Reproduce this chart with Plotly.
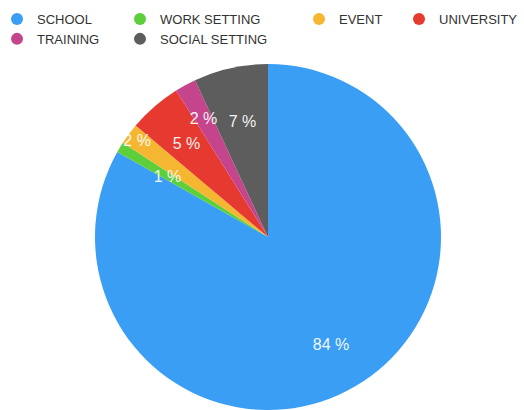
import plotly.graph_objects as go

categories = ["SCHOOL", "WORK SETTING", "EVENT", "UNIVERSITY", "TRAINING", "SOCIAL SETTING"]
values = [84, 1, 2, 5, 2, 7]
colors = ["#3a9ef4", "#5ccf3a", "#f5b731", "#e63a30", "#c4458c", "#5e5d5e"]
value_labels = [f"{v} %" for v in values]

# legend columns as in the reference layout
legend_columns = {
    "legend": ["SCHOOL", "TRAINING"],
    "legend2": ["WORK SETTING", "SOCIAL SETTING"],
    "legend3": ["EVENT"],
    "legend4": ["UNIVERSITY"],
}

# which slice labels are carried by which (transparent) label layer
label_layers = [
    # (categories labelled, radius factor, hole)
    (["SCHOOL", "EVENT"], 1.0, 0.445),
    (["UNIVERSITY", "TRAINING", "SOCIAL SETTING"], 0.83, 0.0),
    (["WORK SETTING"], 0.70, 0.0),
]

W, H = 524, 410
CX, CY, R = 268, 237, 173  # pie centre / radius in pixels


def domain(rf):
    r = R * rf
    return dict(x=[(CX - r) / W, (CX + r) / W], y=[(H - CY - r) / H, (H - CY + r) / H])


font_family = "Liberation Sans, Arial, Helvetica"

fig = go.Figure()
fig.add_trace(go.Pie(
    labels=categories, values=values,
    textinfo="none", sort=False, direction="clockwise", rotation=0,
    marker=dict(colors=colors, line=dict(width=0)),
    showlegend=False, hoverinfo="label+value",
    domain=domain(1.0),
))

for cats, rf, hole in label_layers:
    txt = [lab if c in cats else "" for c, lab in zip(categories, value_labels)]
    fig.add_trace(go.Pie(
        labels=categories, values=values, text=txt,
        textinfo="text", textposition="inside", insidetextorientation="horizontal",
        sort=False, direction="clockwise", rotation=0, hole=hole,
        marker=dict(colors=["rgba(0,0,0,0)"] * len(values), line=dict(width=0)),
        textfont=dict(color="rgba(255,255,255,0.95)", size=16, family=font_family),
        showlegend=False, hoverinfo="skip",
        domain=domain(rf),
    ))

color_of = dict(zip(categories, colors))
for leg, cats in legend_columns.items():
    for c in cats:
        fig.add_trace(go.Scatter(
            x=[None], y=[None], mode="markers", name=c,
            marker=dict(color=color_of[c], size=12, symbol="circle"),
            legend=leg, showlegend=True, hoverinfo="skip",
        ))

leg_font = dict(family=font_family, size=13, color="#333333")
common = dict(orientation="v", yanchor="top", xanchor="left", font=leg_font,
              bgcolor="rgba(0,0,0,0)", borderwidth=0, tracegroupgap=0)
fig.update_layout(
    width=W, height=H,
    margin=dict(l=0, r=0, t=0, b=0, autoexpand=False),
    paper_bgcolor="white", plot_bgcolor="white",
    xaxis=dict(visible=False), yaxis=dict(visible=False),
    legend=dict(x=-0.0057, y=0.9902, **common),
    legend2=dict(x=0.229, y=0.9902, **common),
    legend3=dict(x=0.5706, y=0.9902, **common),
    legend4=dict(x=0.7615, y=0.9902, **common),
    uniformtext=dict(minsize=16, mode="show"),
)
fig.write_html("out.html", config={"displayModeBar": False},
               post_script="document.body.style.margin='0';")
